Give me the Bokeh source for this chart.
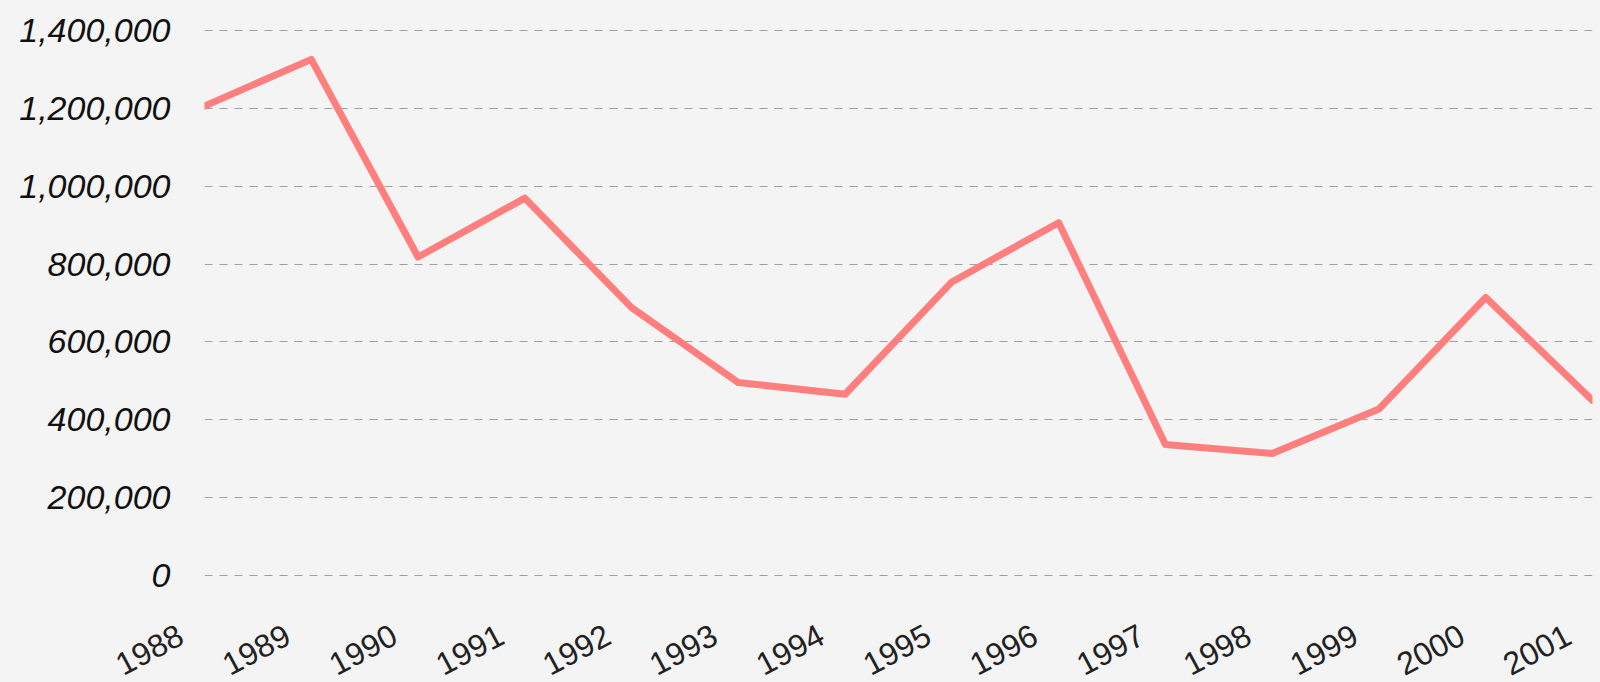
from bokeh.plotting import figure
from bokeh.models import Range1d, FixedTicker, NumeralTickFormatter
from bokeh.embed import file_html
from bokeh.resources import INLINE
import math

years = [1988, 1989, 1990, 1991, 1992, 1993, 1994, 1995, 1996, 1997, 1998, 1999, 2000, 2001]
values = [1205000, 1325000, 818000, 969000, 688000, 496000, 466000, 754000, 906000, 337000, 314000, 428000, 714000, 450000]
y_ticks = [0, 200000, 400000, 600000, 800000, 1000000, 1200000, 1400000]

BG = "#f4f4f4"

p = figure(
    output_backend="svg", toolbar_location=None,
    frame_width=1388, frame_height=577,
    min_border_left=204, min_border_top=14, min_border_right=8, min_border_bottom=10,
    x_range=Range1d(years[0], years[-1]),
    y_range=Range1d(-40000, 1440000),
    background_fill_color=BG, border_fill_color=BG,
)
p.outline_line_color = None

p.line(years, values, line_color="#ff7f7f", line_width=7, line_join="round", line_cap="round")

p.xaxis.ticker = FixedTicker(ticks=years)
p.xaxis.major_label_overrides = {y: str(y) + "\u00a0\u00a0\u00a0" for y in years}
p.yaxis.ticker = FixedTicker(ticks=y_ticks)
p.yaxis.formatter = NumeralTickFormatter(format="0,0")

for ax in (p.xaxis, p.yaxis):
    ax.axis_line_color = None
    ax.major_tick_line_color = None
    ax.minor_tick_line_color = None
    ax.major_tick_out = 0
    ax.major_tick_in = 0
    ax.major_label_text_font = "Liberation Sans"

p.yaxis.major_label_text_font_size = "34px"
p.yaxis.major_label_text_font_style = "italic"
p.yaxis.major_label_text_color = "#111111"
p.yaxis.major_label_standoff = 34
p.xaxis.major_label_text_font_size = "32px"
p.xaxis.major_label_text_color = "#222222"
p.xaxis.major_label_orientation = 28 * math.pi / 180
p.xaxis.major_label_standoff = 29

p.xgrid.grid_line_color = None
p.ygrid.grid_line_color = "#a0a0a0"
p.ygrid.grid_line_dash = "8 7"
p.ygrid.grid_line_width = 1

html = file_html(p, INLINE)
html = html.replace("<head>", "<head><style>html,body{background:%s;}</style>" % BG, 1)
open("out.html", "w").write(html)
